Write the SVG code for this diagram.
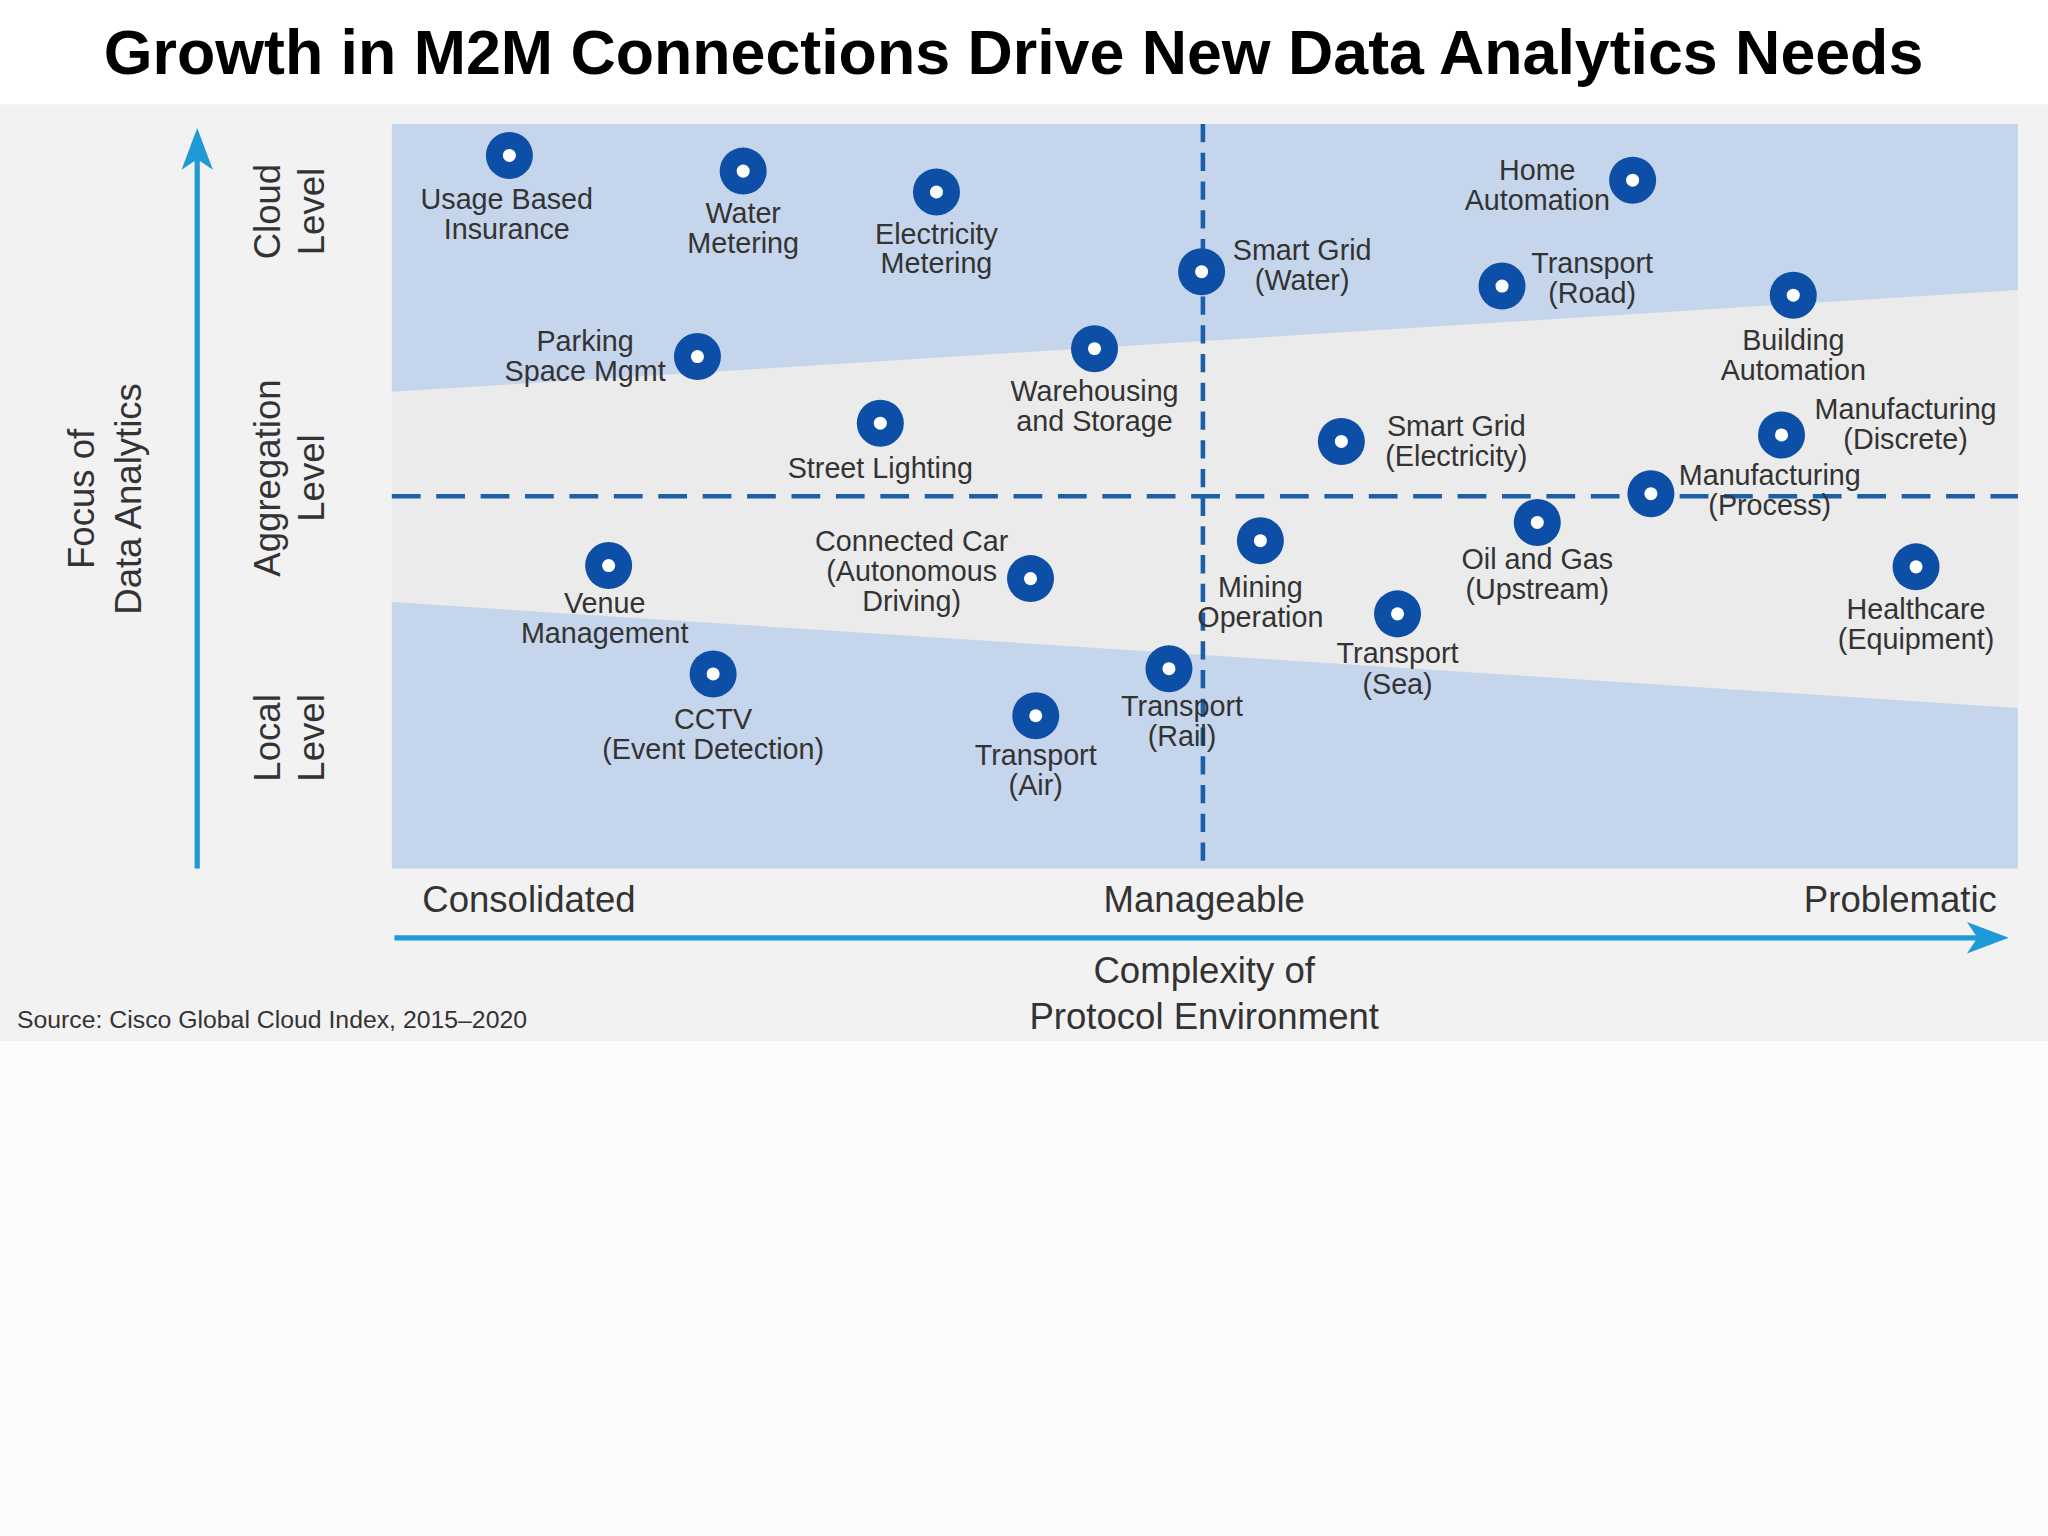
<svg xmlns="http://www.w3.org/2000/svg" width="2048" height="1536" viewBox="0 0 2048 1536">
<defs>
<style>
.t{font-family:"Liberation Sans",Arial,sans-serif;font-size:22px;fill:#333;text-anchor:middle}
.ax{font-family:"Liberation Sans",Arial,sans-serif;font-size:28px;fill:#333;text-anchor:middle}
.dot{fill:#0d4ea6}
.in{fill:#fff}
</style>
<g id="m"><circle r="18" class="dot"/><circle r="5" class="in"/></g>
</defs>
<rect width="2048" height="1536" fill="#fcfcfc"/>
<g transform="scale(1.3061)">
<rect x="0" y="0" width="1568" height="80" fill="#fff"/>
<rect x="0" y="80" width="1568" height="717" fill="#f2f2f3"/>
<text x="776" y="57" font-family="Liberation Sans,Arial,sans-serif" font-weight="bold" font-size="48" text-anchor="middle" fill="#000">Growth in M2M Connections Drive New Data Analytics Needs</text>
<rect x="300" y="95" width="1245" height="570" fill="#ebebeb"/>
<polygon points="300,95 1545,95 1545,222 300,300" fill="#c5d5eb"/>
<polygon points="300,461 1545,542 1545,665 300,665" fill="#c5d5eb"/>
<g id="connectors" stroke="#1b5fa8" stroke-width="3.5" fill="none">
<line x1="921" y1="95" x2="921" y2="665" stroke-dasharray="14,8"/>
<line x1="300" y1="380" x2="1545" y2="380" stroke-dasharray="22,12"/>
<g stroke="#1f9ad6" stroke-width="4">
<line x1="151" y1="665" x2="151" y2="120"/>
<line x1="302" y1="718" x2="1515" y2="718"/>
</g>
<polygon points="151,98 139,130 151,122 163,130" fill="#1f9ad6" stroke="none"/>
<polygon points="1538,718 1506,706 1514,718 1506,730" fill="#1f9ad6" stroke="none"/>
</g>
<text class="ax" transform="translate(72,382) rotate(-90)">Focus of</text>
<text class="ax" transform="translate(108,382) rotate(-90)">Data Analytics</text>
<text class="ax" transform="translate(214,162) rotate(-90)">Cloud</text>
<text class="ax" transform="translate(248,162) rotate(-90)">Level</text>
<text class="ax" transform="translate(214,366) rotate(-90)">Aggregation</text>
<text class="ax" transform="translate(248,366) rotate(-90)">Level</text>
<text class="ax" transform="translate(214,565) rotate(-90)">Local</text>
<text class="ax" transform="translate(248,565) rotate(-90)">Level</text>
<text class="ax" x="405" y="698">Consolidated</text>
<text class="ax" x="922" y="698">Manageable</text>
<text class="ax" x="1455" y="698">Problematic</text>
<text class="ax" x="922" y="753">Complexity of</text>
<text class="ax" x="922" y="788">Protocol Environment</text>
<text x="13" y="787" font-family="Liberation Sans,Arial,sans-serif" font-size="19" fill="#333">Source: Cisco Global Cloud Index, 2015–2020</text>
<g id="n1"><use href="#m" x="390" y="119"/><text class="t" x="388" y="160">Usage Based</text><text class="t" x="388" y="183">Insurance</text></g>
<g id="n2"><use href="#m" x="569" y="131"/><text class="t" x="569" y="171">Water</text><text class="t" x="569" y="194">Metering</text></g>
<g id="n3"><use href="#m" x="717" y="147"/><text class="t" x="717" y="187">Electricity</text><text class="t" x="717" y="209">Metering</text></g>
<g id="n4"><use href="#m" x="920" y="208"/><text class="t" x="997" y="199">Smart Grid</text><text class="t" x="997" y="222">(Water)</text></g>
<g id="n5"><use href="#m" x="1250" y="138"/><text class="t" x="1177" y="138">Home</text><text class="t" x="1177" y="161">Automation</text></g>
<g id="n6"><use href="#m" x="1150" y="219"/><text class="t" x="1219" y="209">Transport</text><text class="t" x="1219" y="232">(Road)</text></g>
<g id="n7"><use href="#m" x="1373" y="226"/><text class="t" x="1373" y="268">Building</text><text class="t" x="1373" y="291">Automation</text></g>
<g id="n8"><use href="#m" x="534" y="273"/><text class="t" x="448" y="269">Parking</text><text class="t" x="448" y="292">Space Mgmt</text></g>
<g id="n9"><use href="#m" x="838" y="267"/><text class="t" x="838" y="307">Warehousing</text><text class="t" x="838" y="330">and Storage</text></g>
<g id="n10"><use href="#m" x="674" y="324"/><text class="t" x="674" y="366">Street Lighting</text></g>
<g id="n11"><use href="#m" x="1027" y="338"/><text class="t" x="1115" y="334">Smart Grid</text><text class="t" x="1115" y="357">(Electricity)</text></g>
<g id="n12"><use href="#m" x="1364" y="333"/><text class="t" x="1459" y="321">Manufacturing</text><text class="t" x="1459" y="344">(Discrete)</text></g>
<g id="n13"><use href="#m" x="1264" y="378"/><text class="t" x="1355" y="371">Manufacturing</text><text class="t" x="1355" y="394">(Process)</text></g>
<g id="n14"><use href="#m" x="466" y="433"/><text class="t" x="463" y="469">Venue</text><text class="t" x="463" y="492">Management</text></g>
<g id="n15"><use href="#m" x="789" y="443"/><text class="t" x="698" y="422">Connected Car</text><text class="t" x="698" y="445">(Autonomous</text><text class="t" x="698" y="468">Driving)</text></g>
<g id="n16"><use href="#m" x="965" y="414"/><text class="t" x="965" y="457">Mining</text><text class="t" x="965" y="480">Operation</text></g>
<g id="n17"><use href="#m" x="1177" y="400"/><text class="t" x="1177" y="436">Oil and Gas</text><text class="t" x="1177" y="459">(Upstream)</text></g>
<g id="n18"><use href="#m" x="1467" y="434"/><text class="t" x="1467" y="474">Healthcare</text><text class="t" x="1467" y="497">(Equipment)</text></g>
<g id="n19"><use href="#m" x="1070" y="470"/><text class="t" x="1070" y="508">Transport</text><text class="t" x="1070" y="531">(Sea)</text></g>
<g id="n20"><use href="#m" x="546" y="516"/><text class="t" x="546" y="558">CCTV</text><text class="t" x="546" y="581">(Event Detection)</text></g>
<g id="n21"><use href="#m" x="895" y="512"/><text class="t" x="905" y="548">Transport</text><text class="t" x="905" y="571">(Rail)</text></g>
<g id="n22"><use href="#m" x="793" y="548"/><text class="t" x="793" y="586">Transport</text><text class="t" x="793" y="609">(Air)</text></g>
</g>
</svg>
